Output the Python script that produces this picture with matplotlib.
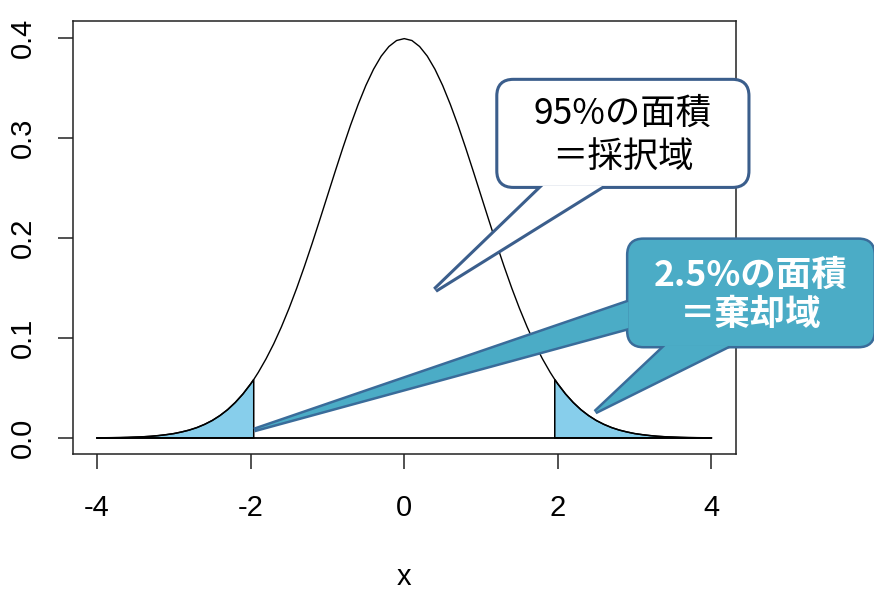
import matplotlib.pyplot as plt
from matplotlib.patches import FancyBboxPatch, Polygon

plt.rcParams['font.family'] = ['Liberation Sans', 'DejaVu Sans']

# density curve (x, height)
x_vals = [-4.0, -3.9, -3.8, -3.7, -3.6, -3.5, -3.4, -3.3, -3.2, -3.1,
          -3.0, -2.9, -2.8, -2.7, -2.6, -2.5, -2.4, -2.3, -2.2, -2.1,
          -2.0, -1.96, -1.9, -1.8, -1.7, -1.6, -1.5, -1.4, -1.3, -1.2, -1.1,
          -1.0, -0.9, -0.8, -0.7, -0.6, -0.5, -0.4, -0.3, -0.2, -0.1,
          0.0, 0.1, 0.2, 0.3, 0.4, 0.5, 0.6, 0.7, 0.8, 0.9,
          1.0, 1.1, 1.2, 1.3, 1.4, 1.5, 1.6, 1.7, 1.8, 1.9, 1.96,
          2.0, 2.1, 2.2, 2.3, 2.4, 2.5, 2.6, 2.7, 2.8, 2.9,
          3.0, 3.1, 3.2, 3.3, 3.4, 3.5, 3.6, 3.7, 3.8, 3.9, 4.0]
density = [0.0001, 0.0002, 0.0003, 0.0004, 0.0006, 0.0009, 0.0012, 0.0017, 0.0024, 0.0033,
           0.0044, 0.0060, 0.0079, 0.0104, 0.0136, 0.0175, 0.0224, 0.0283, 0.0355, 0.0440,
           0.0540, 0.0584, 0.0656, 0.0790, 0.0940, 0.1109, 0.1295, 0.1497, 0.1714, 0.1942, 0.2179,
           0.2420, 0.2661, 0.2897, 0.3123, 0.3332, 0.3521, 0.3683, 0.3814, 0.3910, 0.3970,
           0.3989, 0.3970, 0.3910, 0.3814, 0.3683, 0.3521, 0.3332, 0.3123, 0.2897, 0.2661,
           0.2420, 0.2179, 0.1942, 0.1714, 0.1497, 0.1295, 0.1109, 0.0940, 0.0790, 0.0656, 0.0584,
           0.0540, 0.0440, 0.0355, 0.0283, 0.0224, 0.0175, 0.0136, 0.0104, 0.0079, 0.0060,
           0.0044, 0.0033, 0.0024, 0.0017, 0.0012, 0.0009, 0.0006, 0.0004, 0.0003, 0.0002, 0.0001]
crit = 1.96

x_ticks = [-4, -2, 0, 2, 4]
y_ticks = [0.0, 0.1, 0.2, 0.3, 0.4]
y_labels = ['0.0', '0.1', '0.2', '0.3', '0.4']
x_label = 'x'
accept_text = '95%の面積\n＝採択域'
reject_text = '2.5%の面積\n＝棄却域'

cjk = ['Noto Sans CJK JP', 'DejaVu Sans']

fig = plt.figure(figsize=(8.74, 5.95), dpi=100)
ax = fig.add_axes([72.5 / 874, 1 - 454 / 595, 663.5 / 874, 433 / 595])

# shaded tails
for side in (-1, 1):
    pts = [(x, d) for x, d in zip(x_vals, density) if side * x >= crit]
    verts = [(pts[0][0], 0)] + pts + [(pts[-1][0], 0)]
    ax.add_patch(Polygon(verts, closed=True, fc='#87CEEB', ec='black', lw=1.1, zorder=2))

ax.plot(x_vals, density, color='black', lw=1.0, zorder=3)
ax.plot([x_vals[0], x_vals[-1]], [0, 0], color='black', lw=1.3, zorder=3)

ax.set_xlim(-4.32, 4.32)
ax.set_ylim(-0.016, 0.4165)
ax.set_xticks(x_ticks)
ax.set_xticklabels([str(t) for t in x_ticks])
ax.set_yticks(y_ticks)
ax.set_yticklabels(y_labels, rotation=90, va='center')
ax.tick_params(direction='out', length=11, width=1.1, labelsize=21, color='#222222')
ax.tick_params(axis='x', pad=18)
ax.tick_params(axis='y', pad=15)
for s in ax.spines.values():
    s.set_linewidth(1.1)
    s.set_color('#222222')
ax.set_xlabel(x_label, fontsize=21)
ax.xaxis.set_label_coords(0.5, -0.284)
ax.xaxis.label.set_va('center')


def callout(box, wedges, face, edge, lw, text, tcolor, weight, spacing):
    x0, y0, x1, y1 = box
    p = ax.transData.transform([(0, 0), (1, 1)])
    sx = p[1, 0] - p[0, 0]
    sy = p[1, 1] - p[0, 1]
    r = 15 / sx
    # wide outline first, then fills on top so only the outer edge of the union shows
    for pass_lw, ec, z in ((2 * lw, edge, 5), (0, 'none', 6)):
        ax.add_patch(FancyBboxPatch((x0, y0), x1 - x0, y1 - y0,
                                    boxstyle=f'round,pad=0,rounding_size={r}',
                                    mutation_aspect=sx / sy, fc=face, ec=ec, lw=pass_lw,
                                    clip_on=False, zorder=z))
        for w in wedges:
            ax.add_patch(Polygon(w, closed=True, fc=face, ec=ec, lw=pass_lw,
                                 joinstyle='miter', clip_on=False, zorder=z))
    ax.text((x0 + x1) / 2, (y0 + y1) / 2 - 0.002, text, ha='center', va='center',
            color=tcolor, fontsize=25.5, fontweight=weight, family=cjk,
            linespacing=spacing, zorder=7)


callout((1.225, 0.2518, 4.469, 0.3567),
        [[(1.81, 0.2518), (0.404, 0.1479), (2.58, 0.2518)]],
        'white', '#3B5E8C', 2.2, accept_text, 'black', 'normal', 1.24)
callout((2.919, 0.0919, 6.111, 0.1979),
        [[(2.919, 0.1359), (-1.954, 0.008), (2.919, 0.1099)],
         [(3.40, 0.0919), (2.489, 0.026), (4.22, 0.0919)]],
        '#4BACC6', '#3A6C9A', 1.8, reject_text, 'white', 'bold', 1.18)

fig.savefig('out.png', dpi=100)
